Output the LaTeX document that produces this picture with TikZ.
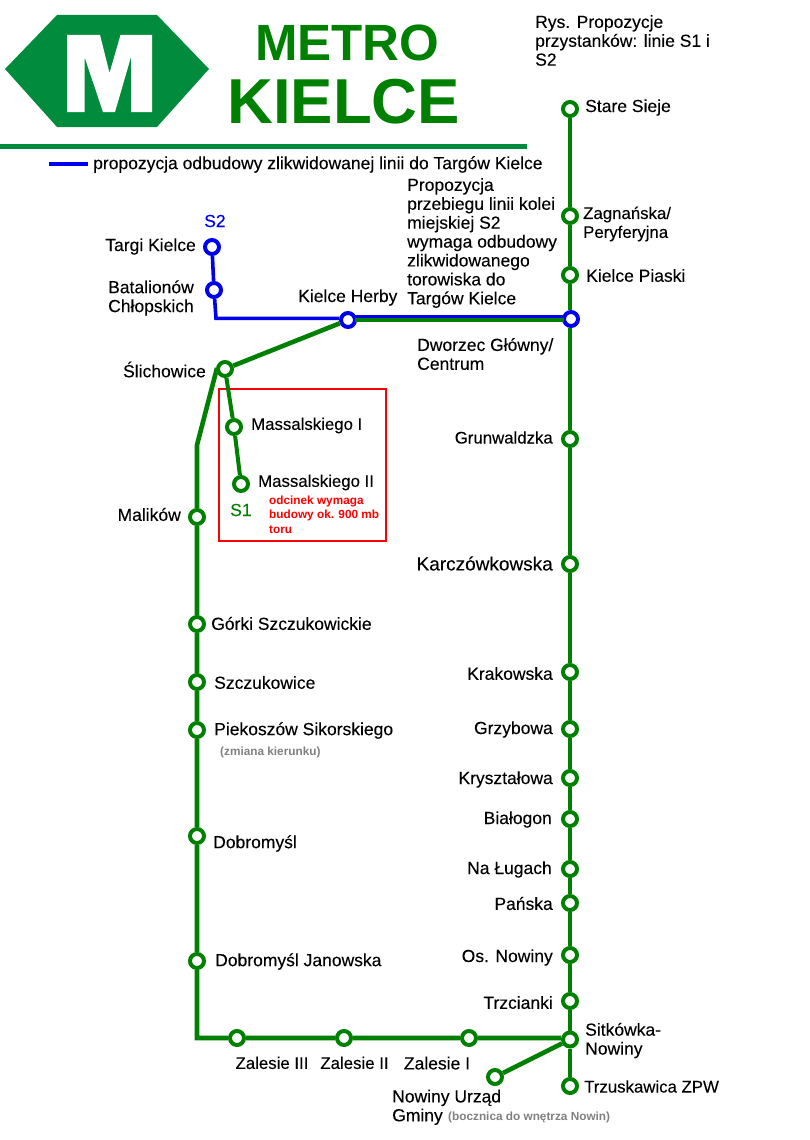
\documentclass[tikz,border=0pt]{standalone}
\usepackage{fontspec}
\setmainfont{Liberation Sans}
\newfontfamily\semib{Liberation Sans}[FakeBold=0.12]
\definecolor{gl}{HTML}{008000}
\definecolor{bl}{HTML}{0000F0}
\definecolor{logo}{HTML}{008C3C}
\tikzset{
  st/.style={circle,draw=gl,fill=white,line width=4pt,minimum size=14pt,inner sep=0pt},
  sb/.style={st,draw=bl},
  gline/.style={draw=gl,line width=4.6pt},
  bline/.style={draw=bl,line width=3.6pt},
  lb/.style={font=\fontsize{17.5}{18.9}\semib,inner sep=0pt,anchor=west,align=left,text=black,yshift=-0.5pt},
  lbr/.style={lb,anchor=east},
  tight/.style={font=\fontsize{16.8}{18.9}\semib},
  wide/.style={font=\fontsize{19}{18.9}\semib},
  redt/.style={font=\fontsize{11.8}{14.6}\selectfont\bfseries,text=red,inner sep=0pt,anchor=north west,align=left},
  grayt/.style={font=\fontsize{11.8}{13}\selectfont\bfseries,text=gray,inner sep=0pt,anchor=west},
}
\begin{document}
\begin{tikzpicture}[x=1pt,y=-1pt]
\useasboundingbox (0,0) rectangle (809,1140);
% logo
\fill[logo] (5,69)--(57,15)--(157,15)--(209,69)--(157,127)--(57,127)--cycle;
\fill[white] (67,35)--(100,35)--(109.5,73)--(120.5,35)--(152,35)--(152,112)--(131,112)--(131,57)--(115,112)--(103,112)--(84.5,57)--(84.5,112)--(67,112)--cycle;
\node[font=\fontsize{51}{51}\selectfont\bfseries,text=gl,inner sep=0pt,anchor=base west] (metro) at (255,60) {METRO};
\node[font=\fontsize{63.5}{63.5}\selectfont\bfseries,text=gl,inner sep=0pt,anchor=base west] (kielce) at (227,123) {KIELCE};
\fill[logo] (0,143.5) rectangle (527,148.5);
\fill[bl] (49,162) rectangle (88,166);
\node[lb] (legend) at (93,164) {propozycja odbudowy zlikwidowanej linii do Targów Kielce};
\node[lb,anchor=north west] (rys) at (535,14.5) {Rys. Propozycje\\przystanków: linie S1 i\\S2};
\node[lb,anchor=north west] (prop) at (407,177.5) {Propozycja\\przebiegu linii kolei\\miejskiej S2\\wymaga odbudowy\\zlikwidowanego\\torowiska do\\Targów Kielce};
% frame
\draw[red,line width=2pt] (218.5,389) rectangle (386,541);
% stations
\node[st] (s1) at (570,109) {};
\node[st] (s2) at (570,216) {};
\node[st] (s3) at (570,275) {};
\node[sb] (s4) at (571,319) {};
\node[st] (s5) at (570,439) {};
\node[st] (s6) at (570,564) {};
\node[st] (s7) at (570,672) {};
\node[st] (s8) at (570,729) {};
\node[st] (s9) at (570,778) {};
\node[st] (s10) at (570,819) {};
\node[st] (s11) at (570,869) {};
\node[st] (s12) at (570,903) {};
\node[st] (s13) at (570,955) {};
\node[st] (s14) at (570,1001) {};
\node[st] (s15) at (570,1039.5) {};
\node[st] (s16) at (570,1086) {};
\node[st] (n1) at (495,1077) {};
\node[st] (z1) at (469,1038) {};
\node[st] (z2) at (344,1038) {};
\node[st] (z3) at (237,1038) {};
\node[st] (l1) at (197,961) {};
\node[st] (l2) at (197,836) {};
\node[st] (l3) at (197,730) {};
\node[st] (l4) at (197,682) {};
\node[st] (l5) at (197,624) {};
\node[st] (l6) at (197,517) {};
\node[st] (sl) at (225,369) {};
\node[st] (m1) at (234,427) {};
\node[st] (m2) at (241,484) {};
\node[sb] (he) at (348,320) {};
\node[sb] (ta) at (212,247) {};
\node[sb] (ba) at (214,290) {};
\coordinate (cb) at (216,318.3);
\coordinate (cl) at (197,1038);
\coordinate (ck) at (197,445);
\coordinate (cs) at (217,368);
\coordinate (hg) at (355,320);
\coordinate (mg) at (564,320);
\coordinate (hb) at (355,316.5);
\coordinate (mb) at (564,316.5);
% lines
\path[gline] (s1)--(s2) (s2)--(s3) (s3)--(s3|-s4.north) (s5|-s4.south)--(s5) (s5)--(s6) (s6)--(s7) (s7)--(s8) (s8)--(s9) (s9)--(s10) (s10)--(s11) (s11)--(s12) (s12)--(s13) (s13)--(s14) (s14)--(s15) (s15)--(s16);
\path[gline] (s15.west|-z1)--(z1) (z1)--(z2) (z2)--(z3) (z3)--(cl) -- (l1) (l1)--(l2) (l2)--(l3) (l3)--(l4) (l4)--(l5) (l5)--(l6) (l6)--(ck) -- (cs);
\path[gline] (s15)--(n1);
\path[gline] (sl)--(he);
\path[gline,line width=4pt] (sl)--(m1) (m1)--(m2);
\path[gline] (hg)--(mg);
\path[bline] (hb)--(mb);
\path[bline] (ta)--(ba) (ba)--(cb)--(he.west|-cb);
% labels
\node[lb] (t1) at (585,107) {Stare Sieje};
\node[lb,tight] (t2) at (583,223.5) {Zagnańska/\\Peryferyjna};
\node[lb] (t3) at (586,275) {Kielce Piaski};
\node[lb] (t4) at (417,353.5) {Dworzec Główny/\\Centrum};
\node[lbr,tight] (t5) at (553,437) {Grunwaldzka};
\node[lbr,wide] (t6) at (553,563) {Karczówkowska};
\node[lbr] (t7) at (553,673) {Krakowska};
\node[lbr] (t8) at (553,729) {Grzybowa};
\node[lbr] (t9) at (553,779) {Kryształowa};
\node[lbr] (t10) at (552,819) {Białogon};
\node[lbr] (t11) at (552,869) {Na Ługach};
\node[lbr] (t12) at (553,903) {Pańska};
\node[lbr] (t13) at (553,957) {Os. Nowiny};
\node[lbr] (t14) at (553,1002) {Trzcianki};
\node[lb] (t15) at (585,1040) {Sitkówka-\\Nowiny};
\node[lb,tight] (t16) at (584,1086) {Trzuskawica ZPW};
\node[lb,anchor=north west] (t17) at (392,1089) {Nowiny Urząd\\Gminy};
\node[grayt] (t18) at (448,1117) {(bocznica do wnętrza Nowin)};
\node[lb,anchor=north,tight] (t19) at (272,1056) {Zalesie III};
\node[lb,anchor=north,tight] (t20) at (354.5,1056) {Zalesie II};
\node[lb,anchor=north] (t21) at (437,1056) {Zalesie I};
\node[lb] (t22) at (215,961) {Dobromyśl Janowska};
\node[lb] (t23) at (213,843) {Dobromyśl};
\node[lb] (t24) at (214,730) {Piekoszów Sikorskiego};
\node[grayt] (t25) at (220,752) {(zmiana kierunku)};
\node[lb] (t26) at (214,682) {Szczukowice};
\node[lb] (t27) at (211,623) {Górki Szczukowickie};
\node[lbr] (t28) at (181,514) {Malików};
\node[lb,tight] (t29) at (258,482) {Massalskiego II};
\node[lb,tight] (t30) at (251,425) {Massalskiego I};
\node[lbr] (t31) at (206,369) {Ślichowice};
\node[lb] (t32) at (298,297) {Kielce Herby};
\node[lb] (t33) at (108,297.5) {Batalionów\\Chłopskich};
\node[lbr] (t34) at (196,246) {Targi Kielce};
\node[lb,text=bl] (t35) at (204,220.5) {S2};
\node[lb,text=gl] (t36) at (230,509.5) {S1};
\node[redt] (t37) at (269,495.5) {odcinek wymaga\\budowy ok. 900 mb\\toru};
\end{tikzpicture}
\end{document}
